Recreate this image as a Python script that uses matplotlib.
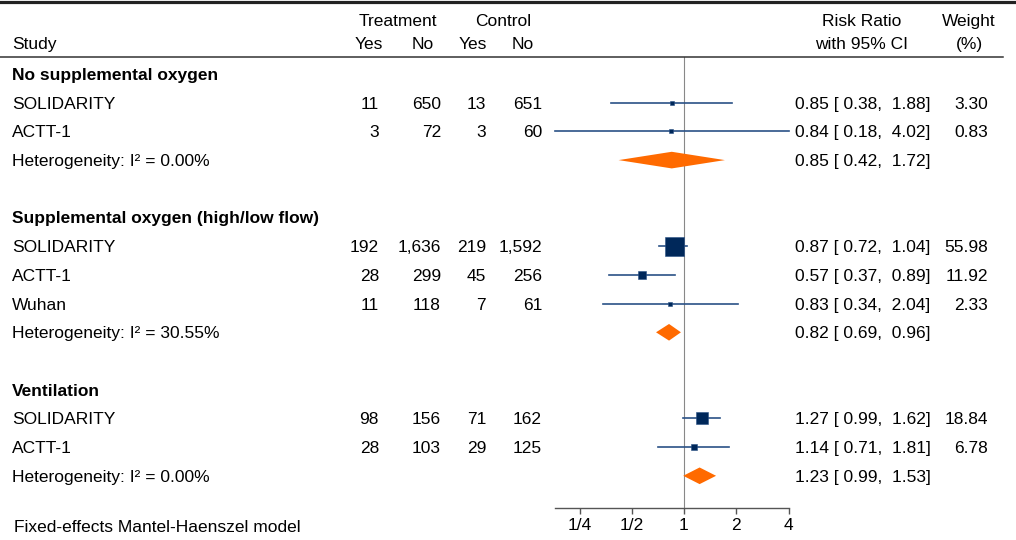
import matplotlib
matplotlib.use("Agg")
from matplotlib import pyplot as plt
from matplotlib import transforms
from matplotlib.lines import Line2D
from matplotlib.patches import Polygon

plt.rcParams['font.family'] = ['Liberation Sans', 'DejaVu Sans']
plt.rcParams['font.size'] = 12.5

# data
groups = ["No supplemental oxygen", "Supplemental oxygen (high/low flow)", "Ventilation"]
studies = [["SOLIDARITY", "ACTT-1"], ["SOLIDARITY", "ACTT-1", "Wuhan"], ["SOLIDARITY", "ACTT-1"]]
treat_yes = [[11, 3], [192, 28, 11], [98, 28]]
treat_no = [[650, 72], [1636, 299, 118], [156, 103]]
ctrl_yes = [[13, 3], [219, 45, 7], [71, 29]]
ctrl_no = [[651, 60], [1592, 256, 61], [162, 125]]
rr = [[0.85, 0.84], [0.87, 0.57, 0.83], [1.27, 1.14]]
rr_lo = [[0.38, 0.18], [0.72, 0.37, 0.34], [0.99, 0.71]]
rr_hi = [[1.88, 4.02], [1.04, 0.89, 2.04], [1.62, 1.81]]
weight = [[3.30, 0.83], [55.98, 11.92, 2.33], [18.84, 6.78]]
i2 = [0.00, 30.55, 0.00]
pooled = [0.85, 0.82, 1.23]
pooled_lo = [0.42, 0.69, 0.99]
pooled_hi = [1.72, 0.96, 1.53]
ticks = [0.25, 0.5, 1, 2, 4]
tick_labels = ["1/4", "1/2", "1", "2", "4"]

W, H = 1016, 540
navy = "#00285a"
line_c = "#2a5186"
orange = "#ff6a00"
grey = "#555555"

fig = plt.figure(figsize=(W / 100, H / 100), dpi=100)

# forest panel, placed in pixels
x0, x1, ytop, ybot = 540, 800, 57, 508
ax = fig.add_axes([x0 / W, 1 - ybot / H, (x1 - x0) / W, (ybot - ytop) / H])
ax.set_xscale("log", base=2)
one_px, per_dbl = 684, 52.25
ax.set_xlim(2 ** ((x0 - one_px) / per_dbl), 2 ** ((x1 - one_px) / per_dbl))
row0, step = 74, 28.7
ax.set_ylim((ybot - row0) / step, (ytop - row0) / step)

for s in ["top", "left", "right"]:
    ax.spines[s].set_visible(False)
lo_all = min(min(g) for g in rr_lo)
hi_all = max(max(g) for g in rr_hi)
ax.spines["bottom"].set_bounds(lo_all, hi_all)
ax.spines["bottom"].set_color(grey)
ax.spines["bottom"].set_linewidth(1.0)
ax.set_xticks(ticks)
ax.set_xticklabels(tick_labels)
ax.minorticks_off()
ax.tick_params(axis="x", length=4, width=1.0, color=grey, pad=3, labelsize=12.5)
ax.set_yticks([])
ax.patch.set_alpha(0)
ax.axvline(1, color="#888888", lw=0.8, zorder=1)

tr = transforms.blended_transform_factory(fig.transFigure, ax.transData)
dy = 0.05  # text sits a touch lower than the marks


def put(px, row, s, ha="right", **kw):
    ax.text(px / W, row + dy, s, transform=tr, ha=ha, va="center", clip_on=False, **kw)


# header
put(12, -1.08, "Study", ha="left")
put(398, -1.88, "Treatment", ha="center")
put(503, -1.88, "Control", ha="center")
for px, s in zip([369, 423, 473, 523], ["Yes", "No", "Yes", "No"]):
    put(px, -1.08, s, ha="center")
put(862, -1.88, "Risk Ratio", ha="center")
put(862, -1.08, "with 95% CI", ha="center")
put(969, -1.88, "Weight", ha="center")
put(969, -1.08, "(%)", ha="center")

big_w = 55.98
big_side = 19 / 100 * 72  # points
row = 0
for g in range(len(groups)):
    put(12, row, groups[g], ha="left", fontweight="bold")
    row += 1
    for k in range(len(studies[g])):
        put(12, row, studies[g][k], ha="left")
        put(379, row, f"{treat_yes[g][k]:,}")
        put(441, row, f"{treat_no[g][k]:,}")
        put(486, row, f"{ctrl_yes[g][k]:,}")
        put(542, row, f"{ctrl_no[g][k]:,}")
        put(795, row, f"{rr[g][k]:.2f} [{rr_lo[g][k]:5.2f}, {rr_hi[g][k]:5.2f}]", ha="left")
        put(988, row, f"{weight[g][k]:.2f}")
        ax.plot([rr_lo[g][k], rr_hi[g][k]], [row, row], color=line_c, lw=1.2, zorder=2)
        side = max(big_side * (weight[g][k] / big_w) ** 0.5, 2.3)
        ax.scatter([rr[g][k]], [row], marker="s", s=side ** 2, color=navy,
                   edgecolors=line_c, linewidths=0.4, zorder=3)
        row += 1
    put(12, row, f"Heterogeneity: I\u00b2 = {i2[g]:.2f}%", ha="left")
    put(795, row, f"{pooled[g]:.2f} [{pooled_lo[g]:5.2f}, {pooled_hi[g]:5.2f}]", ha="left")
    h = 0.29
    dia = Polygon([(pooled_lo[g], row), (pooled[g], row - h), (pooled_hi[g], row),
                   (pooled[g], row + h)], closed=True, color=orange, lw=0, zorder=3)
    ax.add_patch(dia)
    row += 2

put(14, (527 - row0) / step - dy, "Fixed-effects Mantel-Haenszel model", ha="left")

# rules
fig.add_artist(Line2D([0, 1], [1 - 1.5 / H] * 2, lw=2.3, color="#222222"))
fig.add_artist(Line2D([0, 1003 / W], [1 - 57 / H] * 2, lw=1.1, color="#333333"))

fig.savefig("out.png", dpi=100)
